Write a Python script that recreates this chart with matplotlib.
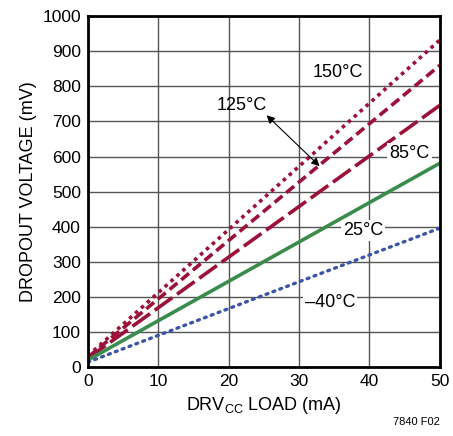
import numpy as np
import matplotlib.pyplot as plt

plt.rcParams['font.family'] = ['Liberation Sans Narrow', 'Liberation Sans', 'DejaVu Sans']

load_ma = [0, 50]
v_m40 = [14, 396]
v_25 = [20, 581]
v_85 = [25, 746]
v_125 = [28, 860]
v_150 = [32, 932]

red = '#9b1139'
fig = plt.figure(figsize=(4.53, 4.36), dpi=100)
ax = fig.add_axes([0.194, 0.158, 0.777, 0.805])

ax.plot(load_ma, v_150, color=red, lw=2.6, ls=(0, (1.0, 1.2)))
ax.plot(load_ma, v_125, color=red, lw=2.6, ls=(0, (2.8, 1.4)))
ax.plot(load_ma, v_85, color=red, lw=2.6, ls=(0, (6, 1.6)))
ax.plot(load_ma, v_25, color='#3a8c4c', lw=2.6)
ax.plot(load_ma, v_m40, color='#3a55a8', lw=2.4, ls=(0, (0.6, 1.6)), dash_capstyle='round')

ax.set_xlim(0, 50)
ax.set_ylim(0, 1000)
ax.set_xticks(np.arange(0, 51, 10))
ax.set_yticks(np.arange(0, 1001, 100))
ax.grid(True, color='#555555', lw=1.0)
ax.set_axisbelow(True)
ax.tick_params(length=0, labelsize=12.5, pad=5)
for s in ax.spines.values():
    s.set_linewidth(2)

ax.set_xlabel('DRV$_{\\mathregular{CC}}$ LOAD (mA)', fontsize=13)
ax.set_ylabel('DROPOUT VOLTAGE (mV)', fontsize=13)

bbox = dict(facecolor='white', edgecolor='none', pad=1.5)
ax.text(35.5, 840, '150°C', fontsize=13, ha='center', va='center')
ax.text(21.9, 744, '125°C', fontsize=13, ha='center', va='center')
ax.text(45.7, 609, '85°C', fontsize=13, ha='center', va='center', bbox=bbox)
ax.text(39.1, 390, '25°C', fontsize=13, ha='center', va='center', bbox=bbox)
ax.text(34.4, 185, '\u201340°C', fontsize=13, ha='center', va='center', bbox=bbox)
ax.annotate('', xy=(25.1, 723), xytext=(33.2, 567),
            arrowprops=dict(arrowstyle='<|-|>', color='black', lw=0.8, mutation_scale=12))

fig.text(0.97, 0.02, '7840 F02', fontsize=8, ha='right', va='bottom')

fig.savefig('out.png', dpi=100)
